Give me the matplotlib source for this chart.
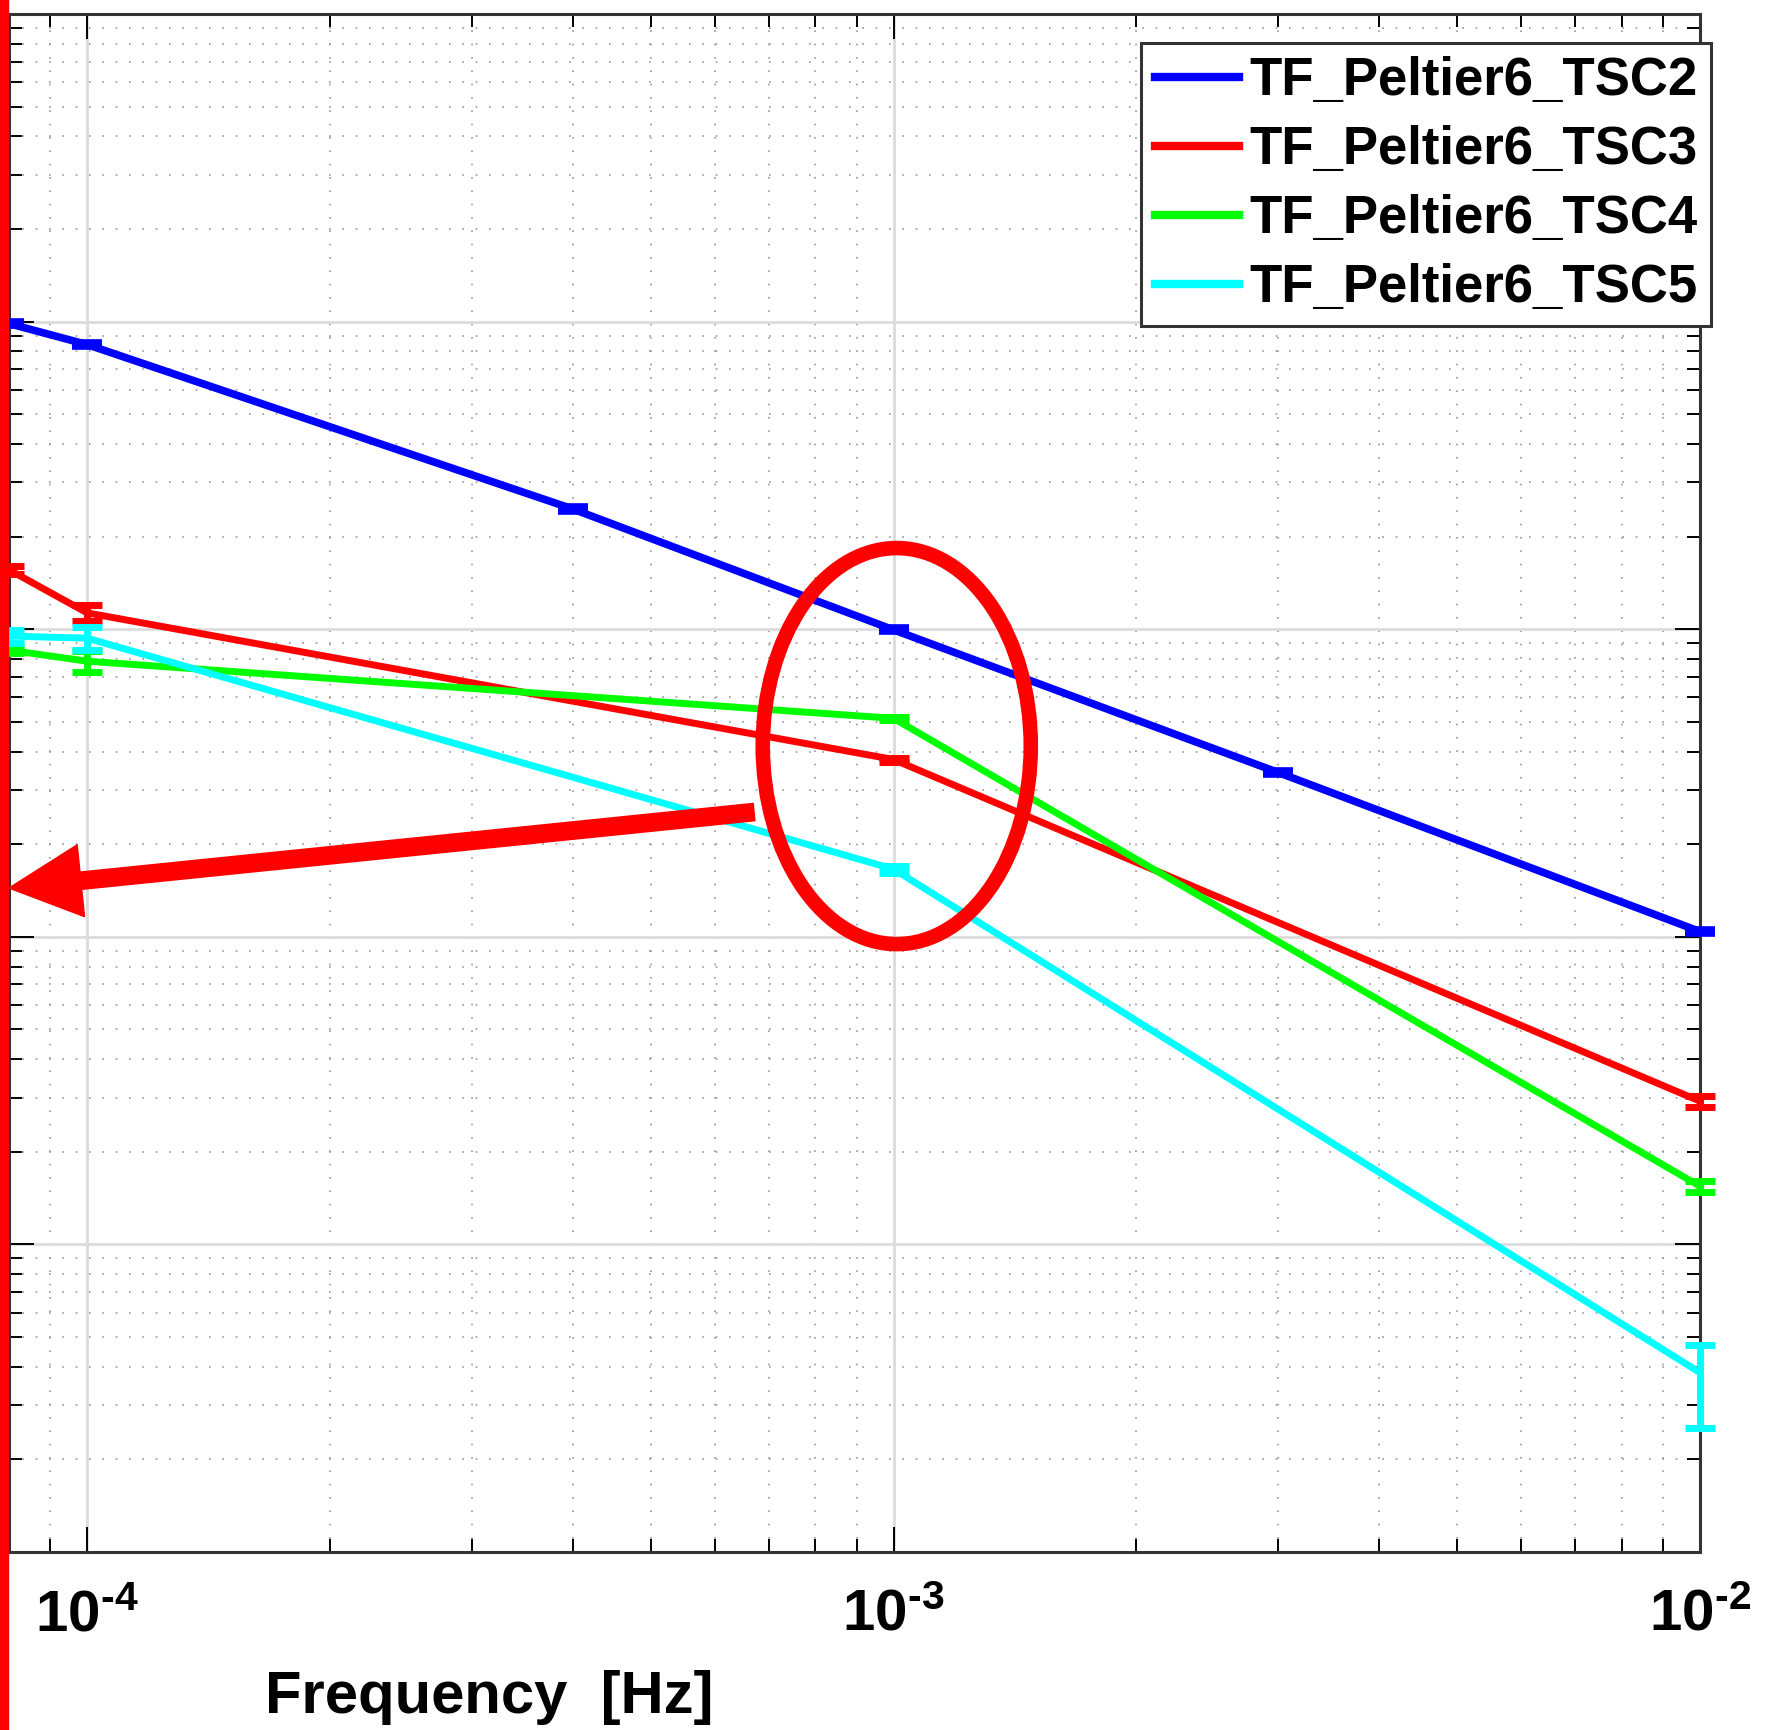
## Transfer functions Peltier6 -> TSC2..TSC5, log-log, with annotation
import numpy as np
import matplotlib
matplotlib.use("Agg")
import matplotlib.pyplot as plt
from matplotlib.patches import Ellipse, Rectangle, FancyArrowPatch
from matplotlib.ticker import LogLocator, NullFormatter, FuncFormatter

## Data
freq_tsc2 = [8e-5, 1e-4, 4e-4, 1e-3, 3e-3, 1e-2]
tf_tsc2 = [9.85, 8.42, 2.46, 0.995, 0.342, 0.104]
err_tsc2 = [0.012, 0.012, 0.012, 0.012, 0.012, 0.012]

freq_other = [8e-5, 1e-4, 1e-3, 1e-2]
tf_tsc3 = [1.56, 1.13, 0.377, 0.0292]
err_tsc3 = [0.03, 0.06, 0.015, 0.04]
tf_tsc4 = [0.855, 0.787, 0.513, 0.01545]
err_tsc4 = [0.02, 0.08, 0.01, 0.04]
tf_tsc5 = [0.95, 0.935, 0.166, 0.00383]
err_tsc5_lo = [0.05, 0.085, 0.026, 0.34]
err_tsc5_hi = [0.05, 0.085, 0.026, 0.23]

names = ["TF_Peltier6_TSC2", "TF_Peltier6_TSC3", "TF_Peltier6_TSC4", "TF_Peltier6_TSC5"]
colors = ["#0000ff", "#ff0000", "#00ff00", "#00ffff"]

## Style
plt.rcParams.update({
    "font.family": ["Liberation Sans", "DejaVu Sans"],
    "font.weight": "bold",
    "mathtext.fontset": "custom",
    "mathtext.rm": "Liberation Sans:bold",
    "mathtext.it": "Liberation Sans:bold",
    "mathtext.bf": "Liberation Sans:bold",
    "mathtext.default": "rm",
    "axes.unicode_minus": False,
})

W, H = 1769, 1730
fig = plt.figure(figsize=(W / 100, H / 100), dpi=100)
ax = fig.add_axes([9 / W, 178 / H, 1691 / W, 1538 / H])

series = [
    (freq_tsc2, tf_tsc2, err_tsc2, err_tsc2, 5.5),
    (freq_other, tf_tsc3, err_tsc3, err_tsc3, 5.0),
    (freq_other, tf_tsc4, err_tsc4, err_tsc4, 5.0),
    (freq_other, tf_tsc5, err_tsc5_lo, err_tsc5_hi, 5.0),
]
for (f, v, lo, hi, lw), name, c in zip(series, names, colors):
    v = np.array(v)
    ax.plot(f, v, color=c, lw=lw, label=name, zorder=3)
    eb = ax.errorbar(f, v, yerr=[v * np.array(lo), v * np.array(hi)], fmt="none",
                     ecolor=c, elinewidth=lw, capsize=11, capthick=lw, zorder=3)
    for art in list(eb.lines[1]) + list(eb.lines[2]):
        art.set_clip_on(False)

ax.set_xscale("log")
ax.set_yscale("log")
ax.set_xlim(8e-5, 1e-2)
ax.set_ylim(1e-3, 1e2)

# MATLAB-style labels: 10 with a short hyphen in the exponent
ax.xaxis.set_major_formatter(FuncFormatter(
    lambda x, pos: r"$10^{\text{-}%d}$" % round(-np.log10(x))))
ax.yaxis.set_major_locator(LogLocator(base=10, numticks=20))
ax.yaxis.set_minor_locator(LogLocator(base=10, subs=np.arange(2, 10), numticks=50))
ax.yaxis.set_minor_formatter(NullFormatter())
ax.xaxis.set_minor_locator(LogLocator(base=10, subs=np.arange(2, 10), numticks=50))
ax.xaxis.set_minor_formatter(NullFormatter())

ax.set_axisbelow(True)
ax.grid(True, which="major", color="#dcdcdc", lw=2.0, ls="-")
ax.grid(True, which="minor", color="#999999", lw=1.2, ls=(0, (1, 7)))

ax.tick_params(which="major", direction="in", length=18, width=1.4, top=True, right=True,
               left=True, labelleft=False, labelsize=42, pad=26, colors="black")
ax.tick_params(which="minor", direction="in", length=9.5, width=1.4, top=True, right=True,
               left=True)
for s in ax.spines.values():
    s.set_linewidth(2.2)
    s.set_color("#333333")

ax.set_xlabel("Frequency  [Hz]", fontsize=43, fontweight="bold")
ax.xaxis.set_label_coords((489 - 9) / 1691, -(1670 - 1552) / 1538)

leg = ax.legend(loc="upper right", bbox_to_anchor=(1711 / W, 1 - 43 / H),
                bbox_transform=fig.transFigure, fontsize=38, frameon=True,
                fancybox=False, edgecolor="#333333", framealpha=1, borderpad=0.25,
                handlelength=1.6, handletextpad=0.2, labelspacing=0.36,
                borderaxespad=0)
leg.get_frame().set_linewidth(2.2)
leg.set_zorder(10)
for line in leg.get_lines():
    line.set_linewidth(6)

## Annotation: ellipse, arrow and red bar at left edge
ax.add_patch(Ellipse((0.525, 0.524), 0.1585, 0.2575, transform=ax.transAxes,
                     fill=False, edgecolor="#ff0000", lw=10.5, clip_on=False, zorder=6))
ax.add_patch(FancyArrowPatch((0.4406, 0.4811), (0.0, 0.4317), transform=ax.transAxes,
                             arrowstyle="simple,head_length=52,head_width=52,tail_width=12.5",
                             mutation_scale=1, color="#ff0000", shrinkA=0, shrinkB=0,
                             clip_on=False, zorder=6))
fig.add_artist(Rectangle((0, 0), 8 / W, 1, transform=fig.transFigure,
                         color="#ff0000", zorder=20))

fig.savefig("out.png", dpi=100)
